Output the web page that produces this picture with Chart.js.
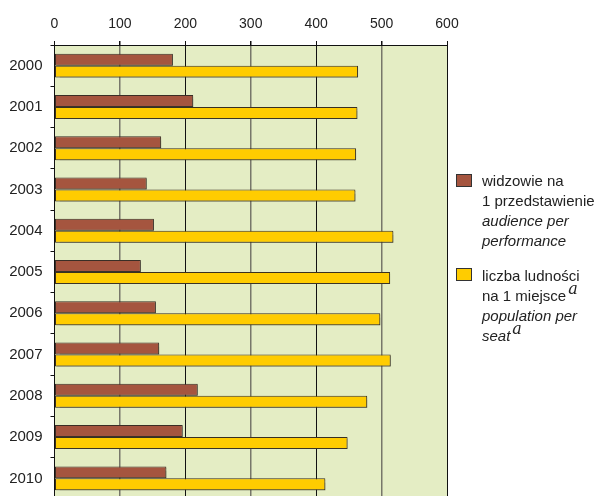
<!DOCTYPE html>
<html>
<head>
<meta charset="utf-8">
<script src="https://cdn.jsdelivr.net/npm/chart.js@4"></script>
<style>
  body { margin: 0; width: 599px; height: 496px; overflow: hidden; background: #fff; font-family: "Liberation Sans", Arial, sans-serif; }
  #wrap { position: absolute; left: 0; top: 0; }
  .legend { position: absolute; left: 456px; color: #222; font-size: 15px; line-height: 20px; }
  .legend .box { position: absolute; left: 0; width: 14px; height: 11px; border: 1px solid #333; }
  .legend .txt { position: absolute; left: 26px; white-space: nowrap; }
  .legend i { font-style: italic; }
  .legend sup { font-family: "DejaVu Serif", "Liberation Serif", serif; font-style: italic; font-size: 16px; line-height: 0; vertical-align: 0; position: relative; top: -7px; margin-left: 2px; }
</style>
</head>
<body>
<div id="wrap"><canvas id="myChart" width="599" height="516"></canvas></div>

<div class="legend" style="top:174px">
  <div class="box" style="top:0; background:#a5553f"></div>
  <div class="txt" style="top:-3px">widzowie na<br>1 przedstawienie<br><i>audience per</i><br><i>performance</i></div>
</div>
<div class="legend" style="top:268px">
  <div class="box" style="top:0; background:#ffcc00"></div>
  <div class="txt" style="top:-2px">liczba ludności<br>na 1 miejsce<sup>a</sup><br><i>population per</i><br><i>seat</i><sup>a</sup></div>
</div>

<script>
// dane
const years = ['2000', '2001', '2002', '2003', '2004', '2005', '2006', '2007', '2008', '2009', '2010'];
const audience = [181, 212, 163, 141, 152, 132, 155, 160, 219, 196, 171];
const population = [464, 463, 461, 460, 518, 513, 498, 514, 478, 448, 414];
const xTicks = [0, 100, 200, 300, 400, 500, 600];

// tło obszaru wykresu
const plotBg = {
  id: 'plotBg',
  beforeDraw(chart) {
    const a = chart.chartArea;
    const ctx = chart.ctx;
    ctx.save();
    ctx.fillStyle = '#e4edc4';
    ctx.fillRect(a.left, a.top, a.right - a.left, a.bottom - a.top);
    ctx.restore();
  }
};

// lekki cień pod słupkami
const barShadow = {
  id: 'barShadow',
  beforeDatasetsDraw(chart) {
    const ctx = chart.ctx;
    ctx.save();
    ctx.shadowColor = 'rgba(60,60,50,0.45)';
    ctx.shadowOffsetX = 1.5;
    ctx.shadowOffsetY = 1.5;
    ctx.shadowBlur = 1;
  },
  afterDatasetsDraw(chart) {
    chart.ctx.restore();
  }
};

const ctx = document.getElementById('myChart');

new Chart(ctx, {
  type: 'bar',
  data: {
    labels: years,
    datasets: [{
      label: 'widzowie na 1 przedstawienie',
      data: audience,
      backgroundColor: '#a5553f',
      borderColor: '#3a2e26',
      borderWidth: 1,
      borderSkipped: false
    }, {
      label: 'liczba ludności na 1 miejsce',
      data: population,
      backgroundColor: '#ffcc00',
      borderColor: '#3a3020',
      borderWidth: 1,
      borderSkipped: false
    }]
  },
  options: {
    indexAxis: 'y',
    responsive: false,
    animation: false,
    layout: { padding: { left: 0, right: 152, top: 0, bottom: 0 } },
    categoryPercentage: 0.58,
    barPercentage: 1,
    plugins: {
      legend: { display: false },
      tooltip: { enabled: false }
    },
    scales: {
      x: {
        position: 'top',
        min: 0,
        max: 600,
        afterBuildTicks: axis => { axis.ticks = xTicks.map(v => ({ value: v })); },
        ticks: {
          color: '#222',
          font: { family: 'Liberation Sans', size: 14 },
          padding: 8,
          maxRotation: 0
        },
        grid: {
          color: c => (c.tick && c.tick.value % 200 === 0) ? '#111' : '#77776a',
          lineWidth: c => (c.tick && c.tick.value % 200 === 0) ? 1 : 1.5,
          tickColor: '#111',
          tickLength: 4
        },
        border: { display: true, color: '#111', width: 1 },
        afterFit: axis => { axis.height = 45; }
      },
      y: {
        offset: true,
        ticks: {
          color: '#222',
          font: { family: 'Liberation Sans', size: 15 },
          padding: 8
        },
        grid: {
          offset: true,
          drawOnChartArea: false,
          tickColor: '#111',
          tickLength: 4
        },
        border: { display: true, color: '#111', width: 1 },
        afterFit: axis => { axis.width = 54.5; }
      }
    }
  },
  plugins: [plotBg, barShadow]
});
</script>
</body>
</html>
